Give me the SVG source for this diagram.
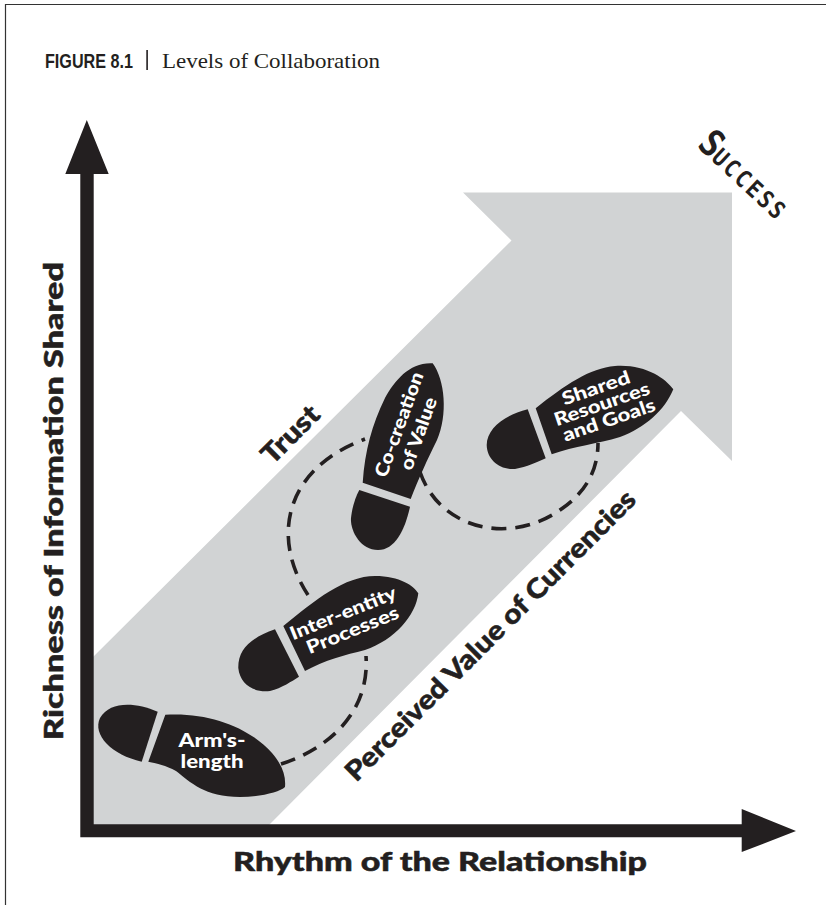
<svg xmlns="http://www.w3.org/2000/svg" width="826" height="905" viewBox="0 0 826 905">
<style>
.shoe{fill:#231f20}
.lbl{font-family:"Lato","Open Sans",sans-serif;font-weight:900;fill:#fff;font-size:18.5px;text-anchor:middle}
.ax{font-family:"Lato","Open Sans",sans-serif;font-weight:900;fill:#231f20;stroke:#231f20;stroke-width:.5;text-anchor:middle;font-size:27px}
.dash{fill:none;stroke:#231f20;stroke-width:3.6;stroke-dasharray:15 9}
</style>
<rect width="826" height="905" fill="#fff"/>
<path d="M5.500 905V4.500H826" fill="none" stroke="#333" stroke-width="1.200"/>
<g id="caption">
<text x="45" y="68" font-family="Liberation Sans,sans-serif" font-weight="700" font-size="20.500" fill="#231f20" textLength="88" lengthAdjust="spacingAndGlyphs">FIGURE 8.1</text>
<rect x="146.300" y="50" width="1.600" height="20" fill="#231f20"/>
<text x="162" y="68" font-family="Liberation Serif,serif" font-size="21.500" fill="#231f20" textLength="218" lengthAdjust="spacingAndGlyphs">Levels of Collaboration</text>
</g>
<g id="band"><polygon points="93,657 511.500,240.500 463,192.500 732,192.500 732,461 681,411 269,825 93,825" fill="#d1d3d4"/></g>
<g id="axes" fill="#231f20">
<polygon points="86.800,120 108.700,174 93.700,174 93.700,824.300 741.700,824.300 741.700,809 796,831 741.700,852 741.700,837.300 80.300,837.300 80.300,174 65.300,174"/>
</g>
<g id="connectors">
<path class="dash" d="M281 764C325 750 370 715 366 656"/>
<path class="dash" d="M308 595C272 540 282 470 365 439"/>
<path class="dash" d="M420 472C440 530 510 545 560 510C590 490 598 465 598 443"/>
</g>
<g id="node-armslength">
<path class="shoe" d="M157.700 711.700C135 702 110 701 100 718C92 735 112 755 141.700 761.700Z"/>
<path class="shoe" d="M165.300 714.700C210 712 250 728 272 753C282 765 286 775 285 787C280 792 260 797 240 797C205 797 190 782 176 771C165 765 155 763 148.300 761.700Z"/>
<text class="lbl" x="212" y="746.500" textLength="67" lengthAdjust="spacingAndGlyphs">Arm's-</text><text class="lbl" x="212" y="768" textLength="63" lengthAdjust="spacingAndGlyphs">length</text>
</g>
<g id="node-inter-entity">
<path class="shoe" d="M275 629.300C250 638 238 650 238.300 668C240 685 255 693 270 691C282 688 292 681 299 676.700Z"/>
<path class="shoe" d="M283.300 626C315 600 345 576 375 576C400 576 414 586 418.300 593.300C416 615 395 640 365 650C345 655 325 660 305 671Z"/>
<text class="lbl" transform="translate(345.500 619) rotate(-22)" textLength="113" lengthAdjust="spacingAndGlyphs">Inter-entity</text>
<text class="lbl" transform="translate(355 636) rotate(-22)" textLength="98" lengthAdjust="spacingAndGlyphs">Processes</text>
</g>
<g id="node-co-creation">
<path class="shoe" d="M432.700 363.300C410 362 395 380 385 398C372 425 365 450 362.700 482.700L410.700 499C418 480 428 458 437 440C448 415 445 380 432.700 363.300Z"/>
<path class="shoe" d="M359.300 490L410 506.700C405 530 395 550 378 550C360 550 350 530 351 518C352 508 355 498 359.300 490Z"/>
<text class="lbl" transform="translate(405 426.700) rotate(-70)" textLength="110" lengthAdjust="spacingAndGlyphs">Co-creation</text>
<text class="lbl" transform="translate(424.500 435.700) rotate(-70)" textLength="76" lengthAdjust="spacingAndGlyphs">of Value</text>
</g>
<g id="node-shared">
<path class="shoe" d="M527.700 409.300C505 415 487 428 486.700 445C487 460 500 470 515 469C527 467 537 462 545.700 458.300Z"/>
<path class="shoe" d="M535.700 408.300C565 385 590 368 615 366C645 364 665 378 673.300 389.300C665 410 645 428 620 437C597 444 575 446 551.700 454.300Z"/>
<text class="lbl" transform="translate(598 394) rotate(-19)" textLength="71" lengthAdjust="spacingAndGlyphs">Shared</text>
<text class="lbl" transform="translate(604 410) rotate(-19)" textLength="100" lengthAdjust="spacingAndGlyphs">Resources</text>
<text class="lbl" transform="translate(611 426) rotate(-19)" textLength="97" lengthAdjust="spacingAndGlyphs">and Goals</text>
</g>
<g id="axis-labels">
<text class="ax" x="440" y="871" textLength="414" lengthAdjust="spacingAndGlyphs">Rhythm of the Relationship</text>
<text class="ax" transform="translate(63 501) rotate(-90)" textLength="478" lengthAdjust="spacingAndGlyphs">Richness of Information Shared</text>
<text class="ax" transform="translate(297 441) rotate(-45)" textLength="70" lengthAdjust="spacingAndGlyphs">Trust</text>
<text class="ax" transform="translate(497 642) rotate(-45)" textLength="398" lengthAdjust="spacingAndGlyphs">Perceived Value of Currencies</text>
</g>
<text id="success" transform="translate(696 146) rotate(43) scale(.88 1)" font-family="DejaVu Sans Mono,monospace" font-weight="700" font-size="24" letter-spacing="3" fill="#231f20"><tspan font-size="37" letter-spacing="0">S</tspan>UCCESS</text>
</svg>
